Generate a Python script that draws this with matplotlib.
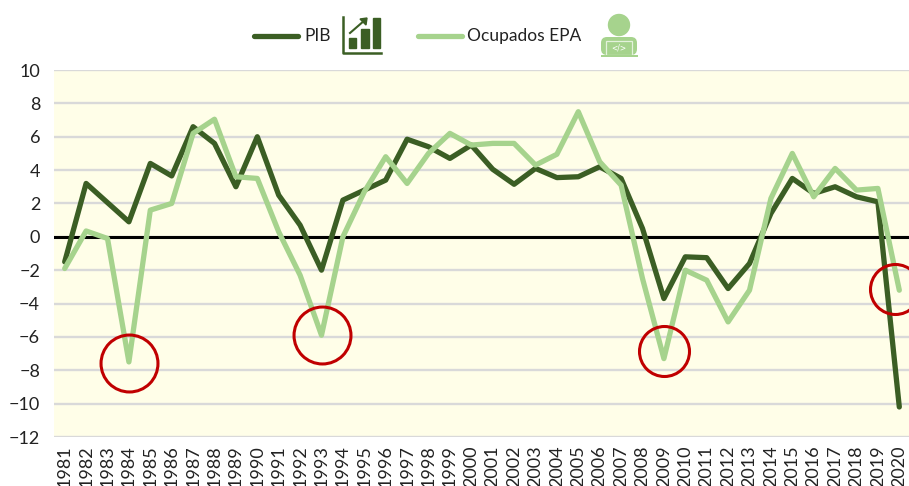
import matplotlib
matplotlib.use("Agg")
import matplotlib.pyplot as plt
from matplotlib.patches import Rectangle, Circle, Polygon, FancyBboxPatch

years = list(range(1981, 2021))
pib = [-1.5, 3.2, 2.05, 0.9, 4.4, 3.65, 6.6, 5.6, 3.0, 6.0, 2.5, 0.7, -2.0, 2.2, 2.8, 3.4, 5.85, 5.4,
       4.7, 5.5, 4.05, 3.15, 4.1, 3.55, 3.6, 4.2, 3.5, 0.5, -3.7, -1.2, -1.25, -3.1, -1.6, 1.4, 3.5,
       2.6, 3.0, 2.4, 2.1, -10.2]
epa = [-1.9, 0.35, -0.1, -7.5, 1.6, 2.0, 6.2, 7.05, 3.6, 3.5, 0.3, -2.3, -5.9, 0.0, 2.7, 4.8, 3.2,
       5.0, 6.2, 5.5, 5.6, 5.6, 4.3, 4.95, 7.5, 4.5, 3.1, -2.5, -7.3, -2.0, -2.6, -5.1, -3.2, 2.3,
       5.0, 2.4, 4.1, 2.8, 2.9, -3.2]
circle_years = [1984, 1993, 2009, 2019.8]
circle_vals = [-7.55, -5.87, -6.85, -3.15]
circle_sizes = [41, 41, 36, 36]
yticks = list(range(-12, 11, 2))

W, H = 909, 486
DARK = "#3B5E24"
LIGHT = "#A6D38D"
plt.rcParams["font.family"] = ["Lato", "DejaVu Sans"]
fig = plt.figure(figsize=(W / 100, H / 100), dpi=100)
ax = fig.add_axes([54 / W, 1 - 437 / H, 856 / W, 367 / H])
ax.set_facecolor("#FFFEE8")
ax.set_xlim(1980.5, 2020.5)
ax.set_ylim(-12, 10)
ax.set_yticks(yticks)
ax.set_xticks(years)
ax.set_xticklabels(years, rotation=90)
ax.grid(axis="y", color="#D9D9D9", lw=1.7, zorder=1)
ax.set_axisbelow(True)
for s in ax.spines.values():
    s.set_visible(False)
ax.tick_params(length=0, labelcolor="#222222")
ax.tick_params(axis="x", pad=6, labelsize=13)
ax.tick_params(axis="y", pad=10, labelsize=13)
for t in ax.get_yticklabels():
    t.set_clip_on(False)
ax.axhline(0, color="black", lw=2.2, zorder=2)
ax.plot(years, pib, color=DARK, lw=3.8, zorder=3, label="PIB", solid_capstyle="round")
ax.plot(years, epa, color=LIGHT, lw=3.8, zorder=4, label="Ocupados EPA", solid_capstyle="round")
for x, y, s in zip(circle_years, circle_vals, circle_sizes):
    ax.plot([x], [y], marker="o", ms=s, mfc="none", mec="#C00000", mew=2.2, zorder=5, clip_on=False)

# legend drawn in figure pixels
ov = fig.add_axes([0, 0, 1, 1], zorder=10)
ov.set_xlim(0, W); ov.set_ylim(H, 0); ov.axis("off"); ov.patch.set_alpha(0)
ov.plot([254, 298], [36, 36], color=DARK, lw=3.8, solid_capstyle="round")
ov.text(304, 36, "PIB", fontsize=12.5, va="center", color="#222222")
ov.plot([418, 462], [36, 36], color=LIGHT, lw=3.8, solid_capstyle="round")
ov.text(467, 36, "Ocupados EPA", fontsize=12.5, va="center", color="#222222")
# chart icon
ov.plot([343, 343, 381], [17, 53, 53], color=DARK, lw=1.8)
for x0, y0, w in [(349, 38, 7), (361, 29, 8), (373, 18, 7)]:
    ov.add_patch(Rectangle((x0, y0), w, 48 - y0, color=DARK))
ov.plot([350, 365], [33, 20], color=DARK, lw=1.5)
ov.add_patch(Polygon([[360, 19], [367, 18], [366, 25]], color=DARK))
# person icon
ov.add_patch(Circle((619, 25), 10.5, color=LIGHT))
ov.add_patch(FancyBboxPatch((601, 37), 36, 18, boxstyle="round,pad=0,rounding_size=6", color=LIGHT, lw=0))
ov.add_patch(Rectangle((606, 41), 26, 14, fc=LIGHT, ec="#E4F2DC", lw=0.9))
ov.add_patch(Rectangle((601, 55), 37, 2, color=LIGHT, lw=0))
ov.text(619, 48, "</>", fontsize=5.5, color="white", ha="center", va="center", family="DejaVu Sans")

fig.savefig("out.png", dpi=100, facecolor="white")
